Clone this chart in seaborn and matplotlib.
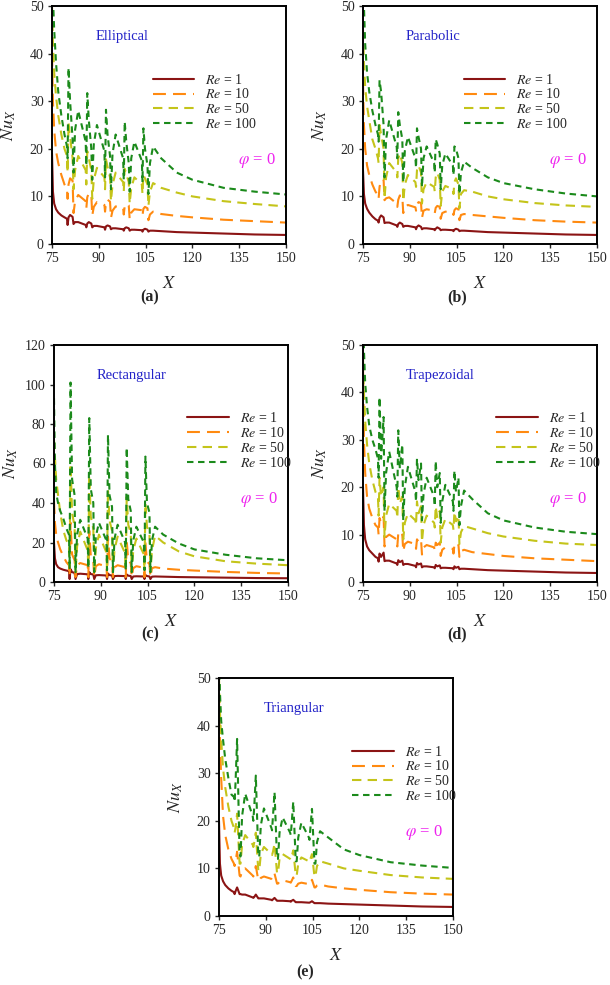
import numpy as np
import pandas as pd
import matplotlib
matplotlib.use("Agg")
import matplotlib.pyplot as plt
import seaborn as sns

# ---------------- data ----------------
RE_LABELS = ["$Re$ = 1", "$Re$ = 10", "$Re$ = 50", "$Re$ = 100"]

X_POS = [75.0, 75.3, 75.7, 76.3, 77.0, 78.0, 79.0,
         79.8, 80.0, 80.3, 80.8, 81.6, 81.9, 82.4, 83.4,
         85.8, 86.0, 86.3, 86.8, 87.6, 87.9, 88.4, 89.4,
         91.8, 92.0, 92.3, 92.8, 93.6, 93.9, 94.4, 95.4,
         97.8, 98.0, 98.3, 98.8, 99.6, 99.9, 100.4, 101.4,
         103.8, 104.0, 104.3, 104.8, 105.6, 105.9, 106.4, 107.4,
         110.0, 115.0, 120.0, 130.0, 140.0, 150.0]

# (a) Elliptical
ELL_RE1 = [19, 11, 8.5, 7.3, 6.6, 6.0, 5.6,
           5.3, 4.0, 5.6, 6.1, 5.7, 4.2, 4.6, 4.6,
           4.0, 3.5, 4.3, 4.6, 4.3, 3.5, 3.8, 3.8,
           3.5, 3.0, 3.7, 3.9, 3.7, 3.1, 3.3, 3.3,
           3.1, 2.8, 3.3, 3.5, 3.3, 2.8, 3.0, 3.0,
           2.9, 2.6, 3.0, 3.2, 3.0, 2.6, 2.8, 2.8,
           2.7, 2.5, 2.4, 2.2, 2.0, 1.9]
ELL_RE10 = [40, 30, 24, 19.5, 17, 14.5, 12.5,
            11.5, 9.5, 12.5, 13.8, 13.3, 6.5, 9.0, 10.3,
            9.0, 7.5, 9.8, 10.7, 10.2, 6.0, 7.8, 8.8,
            8.2, 6.8, 8.6, 9.3, 8.9, 5.5, 7.0, 7.9,
            7.5, 6.2, 7.9, 8.5, 8.1, 5.2, 6.6, 7.3,
            7.1, 6.0, 7.4, 7.8, 7.5, 5.0, 6.2, 6.8,
            6.3, 5.9, 5.6, 5.1, 4.8, 4.5]
ELL_RE50 = [50, 42, 36, 31, 27, 23, 20,
            18.5, 15, 25.5, 22.5, 18, 11.5, 15.5, 18.5,
            15.5, 12.5, 19.5, 18, 15.5, 9.5, 13.5, 16,
            14, 11.5, 17.8, 16.2, 14, 9, 12.5, 15,
            13, 11, 15.8, 14.8, 13, 8.5, 11.8, 14,
            12.5, 10.5, 14.5, 13.8, 12.5, 8, 11, 12.8,
            11.8, 10.8, 10, 9, 8.4, 7.9]
ELL_RE100 = [62, 52, 45, 38, 32, 27, 23,
             20.5, 18, 37, 30, 22, 15, 24, 28,
             21.5, 16.5, 31.7, 26, 20, 13.5, 21, 25,
             19.5, 14, 28.2, 23, 18.5, 11.5, 19, 23,
             18, 13.5, 25.7, 21.5, 17, 11, 18, 21.5,
             17.5, 13, 24.3, 20, 16.5, 10.5, 17, 20.5,
             18, 15, 13.5, 11.8, 11, 10.4]

# (b) Parabolic
PAR_RE1 = [15.5, 10.5, 8.5, 7.4, 6.6, 5.8, 5.2,
           4.9, 4.5, 5.5, 6.0, 5.6, 4.4, 4.5, 4.5,
           3.9, 3.6, 4.2, 4.5, 4.2, 3.6, 3.8, 3.8,
           3.5, 3.1, 3.6, 3.9, 3.6, 3.1, 3.3, 3.3,
           3.1, 2.9, 3.2, 3.5, 3.2, 2.9, 3.0, 3.0,
           2.9, 2.7, 3.0, 3.2, 3.0, 2.7, 2.8, 2.8,
           2.7, 2.5, 2.4, 2.2, 2.0, 1.9]
PAR_RE10 = [34, 25, 20, 16.5, 14.5, 12.5, 11,
            10.3, 9.5, 12, 13.5, 13.5, 9.2, 9.6, 9.8,
            8.5, 7.8, 9.3, 10.2, 10, 6.5, 7.8, 8.2,
            7.7, 7, 8.3, 8.8, 8.6, 5.5, 7.0, 7.3,
            7.0, 6.5, 7.6, 8.0, 7.8, 5.3, 6.5, 6.8,
            6.6, 6.1, 7.1, 7.5, 7.3, 5.0, 6.1, 6.3,
            6.1, 5.8, 5.5, 5.0, 4.7, 4.5]
PAR_RE50 = [45, 38, 33, 29, 26, 22, 20,
            18, 17, 25, 23, 20, 9.5, 14, 17,
            15, 14, 18, 19, 17, 9, 12.5, 14.5,
            13, 12, 15.5, 16.5, 15, 8.5, 11.5, 13,
            12, 11, 14, 15, 13.5, 8, 11, 12.2,
            11.5, 10.5, 13, 13.8, 12.5, 7.5, 10.5, 11.3,
            11, 10, 9.4, 8.6, 8.1, 7.8]
PAR_RE100 = [60, 50, 42, 36, 32, 28, 25,
             23, 21.5, 34.4, 32, 25, 14, 22, 26,
             20.4, 18, 27.7, 25, 22, 13, 19.5, 22.5,
             18, 16, 24.3, 22.5, 20, 12, 18, 20.5,
             17, 15, 22, 21, 19, 11.5, 16.5, 19,
             16.5, 14.5, 20.5, 20, 18, 10.5, 15, 17.3,
             16, 14, 12.8, 11.5, 10.6, 10]

# (c) Rectangular
REC_RE1 = [20, 12, 9, 7.5, 6.8, 6.2, 5.8,
           5.5, 1.5, 6.5, 5.0, 4.6, 1.5, 4.0, 4.2,
           3.9, 1.5, 5.0, 4.0, 3.8, 1.5, 3.4, 3.5,
           3.3, 1.5, 4.3, 3.5, 3.3, 1.5, 3.0, 3.1,
           3.0, 1.5, 3.8, 3.2, 3.0, 1.5, 2.8, 2.9,
           2.8, 1.5, 3.5, 3.0, 2.8, 1.5, 2.7, 2.8,
           2.7, 2.5, 2.4, 2.2, 2.0, 1.9]
REC_RE10 = [41, 30, 24, 20, 16.5, 13, 10,
            8.5, 3, 30, 14, 11, 2.5, 8.5, 9.6,
            8.5, 2.5, 26, 13, 10.5, 2.5, 8, 9,
            8, 2.5, 23, 12, 10, 2.5, 7.5, 8.5,
            7.5, 2.5, 21, 11, 9.5, 2.5, 7, 8,
            7.2, 2.5, 20, 10.5, 9, 2.5, 7, 7.5,
            6.8, 6.2, 5.8, 5.1, 4.6, 4.3]
REC_RE50 = [72, 63, 52, 44, 35, 26, 21,
            19, 8, 60, 35, 28, 5, 18, 25.5,
            16, 7, 54, 33, 27, 5, 17, 24,
            15, 6, 47, 31, 26, 5, 16.5, 23,
            14.5, 6, 43, 29, 25, 5, 16, 22,
            14, 6, 40, 28, 24, 5, 16, 23.5,
            20, 15.5, 13, 10.5, 9.3, 8.5]
REC_RE100 = [93, 60, 45, 40, 36, 32, 27,
             24, 7, 101, 52, 44, 5, 24, 31.5,
             22, 7, 83, 47, 40, 5, 23, 30,
             21, 6, 74.5, 44, 38, 5, 22, 29,
             20, 6, 68, 42, 36, 5, 21, 28,
             20, 6, 63.5, 40, 35, 5, 21, 28,
             24, 19.5, 16.5, 13.8, 12, 11]

# (d) Trapezoidal
TRA_RE1 = [20, 12, 9, 7.5, 6.7, 6.0, 5.3,
           5.0, 4.3, 6.0, 5.3, 6.2, 4.4, 4.5, 4.5,
           3.9, 3.6, 4.6, 4.2, 4.5, 3.6, 3.8, 3.8,
           3.4, 3.1, 4.0, 3.7, 3.9, 3.1, 3.3, 3.3,
           3.1, 2.9, 3.6, 3.3, 3.5, 2.9, 3.0, 3.0,
           2.9, 2.7, 3.3, 3.0, 3.2, 2.7, 2.8, 2.8,
           2.7, 2.5, 2.4, 2.2, 2.0, 1.9]
TRA_RE10 = [46, 30, 23, 18, 15.5, 13.5, 12,
            11.5, 10, 13.5, 12.5, 13.8, 7.5, 9.5, 10,
            9, 7.5, 10.2, 9.5, 10, 6.5, 8, 8.5,
            8, 7, 9, 8.5, 9, 5.8, 7.3, 7.8,
            7.3, 6.5, 8.3, 7.8, 8.3, 5.5, 6.8, 7.3,
            7, 6, 7.8, 7.3, 7.8, 5.3, 6.5, 6.8,
            6.3, 5.9, 5.5, 5.0, 4.7, 4.4]
TRA_RE50 = [47, 40, 34, 29, 25, 21.5, 19,
            18, 14, 22, 18, 20, 9.5, 14, 16.5,
            15, 13.5, 20, 16.5, 18, 9, 12.5, 14.5,
            13, 12, 17, 14.5, 16, 8.5, 12, 14,
            12.5, 11.5, 16, 13.5, 15, 8.3, 11.5, 13.3,
            12, 11, 14.8, 12.8, 14, 8, 10.5, 11.8,
            11.3, 10.3, 9.6, 8.7, 8.1, 7.8]
TRA_RE100 = [60, 49, 42, 37, 33, 30, 28,
             26, 22, 39, 26, 34.8, 15, 23, 27.5,
             20, 18, 32, 24, 29, 13, 20, 24.3,
             19, 17, 26, 21.5, 25, 13, 18.5, 22,
             18, 16, 25.5, 20, 23, 12.5, 17, 20.5,
             17, 15, 23.5, 19, 22, 12, 16, 19.3,
             17.5, 14.5, 13, 11.5, 10.6, 10.1]

# (e) Triangular
TRI_RE1 = [20, 11, 8.5, 7.3, 6.5, 5.8, 5.3,
           5.0, 4.6, 5.2, 6.0, 4.6, 4.6, 4.5, 4.5,
           3.9, 3.8, 4.0, 4.5, 3.7, 3.7, 3.7, 3.7,
           3.4, 3.3, 3.5, 3.8, 3.2, 3.2, 3.2, 3.2,
           3.1, 3.0, 3.2, 3.4, 2.9, 2.9, 2.9, 2.9,
           2.8, 2.8, 2.9, 3.1, 2.7, 2.7, 2.7, 2.7,
           2.6, 2.5, 2.4, 2.2, 2.0, 1.9]
TRI_RE10 = [46, 37, 29, 21, 17, 14, 12,
            11, 10.5, 11.5, 13.5, 8.5, 8.3, 9.5, 10,
            8.5, 8.3, 9, 10.5, 7.5, 7.5, 8, 8.3,
            7.8, 7.6, 8, 8.9, 6.8, 6.8, 7.2, 7.5,
            7.1, 7, 7.4, 8.1, 6.3, 6.3, 6.8, 7,
            6.7, 6.6, 7, 7.6, 6, 6, 6.4, 6.6,
            6.2, 5.8, 5.5, 5.0, 4.7, 4.5]
TRI_RE50 = [50, 43, 37, 31, 27, 23, 20,
            18.5, 17.5, 18.5, 21.5, 11, 11, 15, 17,
            15, 14.5, 15.5, 17.5, 9.5, 9.5, 13, 14.5,
            13, 12.8, 13.5, 15.2, 9, 9, 12, 13,
            12, 11.8, 12.5, 13.8, 8.5, 8.5, 11, 12.3,
            11.5, 11.3, 12, 13, 8.3, 8.3, 10.5, 11.5,
            11, 10, 9.5, 8.6, 8.1, 7.8]
TRI_RE100 = [58, 47, 41, 37, 33, 29, 25.5,
             25, 24, 28, 37.2, 13, 12.5, 21, 25.7,
             21, 20, 23, 29.5, 12.5, 12.5, 19, 22.6,
             18.5, 18, 21, 26, 12, 12, 17.5, 20.7,
             17.5, 17, 19.5, 24, 11.5, 11.5, 16.5, 19.6,
             16.5, 16, 18.5, 22.5, 11, 11, 15.5, 17.8,
             16.5, 14, 12.8, 11.3, 10.6, 10.1]

SHAPES = ["Elliptical", "Parabolic", "Rectangular", "Trapezoidal", "Triangular"]
PANEL_TAGS = ["(a)", "(b)", "(c)", "(d)", "(e)"]
X_TICKS = [75, 90, 105, 120, 135, 150]
Y_TICKS_50 = [0, 10, 20, 30, 40, 50]
Y_TICKS_120 = [0, 20, 40, 60, 80, 100, 120]

# ---------------- style ----------------
sns.set_style("ticks")
plt.rcParams["font.family"] = ["Liberation Serif", "DejaVu Serif"]
plt.rcParams["mathtext.fontset"] = "stix"

COLORS = {RE_LABELS[0]: "#8b1414", RE_LABELS[1]: "#ff8a10",
          RE_LABELS[2]: "#c4c41a", RE_LABELS[3]: "#1b8a1b"}
DASHES = {RE_LABELS[0]: "", RE_LABELS[1]: (6.2, 3.4),
          RE_LABELS[2]: (4.5, 3.0), RE_LABELS[3]: (3.1, 2.2)}

W, H = 610, 985
fig = plt.figure(figsize=(W / 100, H / 100), dpi=100)

panels = [
    ("Elliptical", [ELL_RE1, ELL_RE10, ELL_RE50, ELL_RE100], Y_TICKS_50, (52, 6, 286, 244), 0.43, (150, 297)),
    ("Parabolic", [PAR_RE1, PAR_RE10, PAR_RE50, PAR_RE100], Y_TICKS_50, (363, 6, 597, 244), 0.43, (457, 297)),
    ("Rectangular", [REC_RE1, REC_RE10, REC_RE50, REC_RE100], Y_TICKS_120, (54, 345, 288, 582), 0.57, (150, 634)),
    ("Trapezoidal", [TRA_RE1, TRA_RE10, TRA_RE50, TRA_RE100], Y_TICKS_50, (363, 345, 597, 582), 0.57, (457, 634)),
    ("Triangular", [TRI_RE1, TRI_RE10, TRI_RE50, TRI_RE100], Y_TICKS_50, (219, 678, 453, 916), 0.57, (305, 972)),
]
title_x = {"Elliptical": 0.30, "Parabolic": 0.30, "Rectangular": 0.33,
           "Trapezoidal": 0.33, "Triangular": 0.32}

for (name, series, yticks, (l, t, r, b), legx, (tx, ty)), tag in zip(panels, PANEL_TAGS):
    ax = fig.add_axes([l / W, 1 - b / H, (r - l) / W, (b - t) / H])
    frames = []
    for lab, vals in zip(RE_LABELS, series):
        frames.append(pd.DataFrame({"X": X_POS, "Nu": vals, "Re": lab}))
    df = pd.concat(frames, ignore_index=True)
    sns.lineplot(data=df, x="X", y="Nu", hue="Re", style="Re",
                 hue_order=RE_LABELS, style_order=RE_LABELS,
                 palette=COLORS, dashes=DASHES, estimator=None,
                 linewidth=1.5, ax=ax)
    ax.set_xlim(75, 150)
    ax.set_ylim(yticks[0], yticks[-1])
    ax.set_xticks(X_TICKS)
    ax.set_yticks(yticks)
    ax.tick_params(direction="out", length=3, width=1, labelsize=10, pad=3)
    for sp in ax.spines.values():
        sp.set_linewidth(1.4)
        sp.set_color("black")
    ax.set_xlabel("$X$", fontsize=13, va="center")
    ax.xaxis.set_label_coords(0.5, -39 / (b - t))
    ax.set_ylabel("$Nu_{X}$", fontsize=13, va="center", ha="center")
    ax.yaxis.set_label_coords(-43 / (r - l), 0.5)

    handles, labels = ax.get_legend_handles_labels()
    keep = [(h, lb) for h, lb in zip(handles, labels) if lb in RE_LABELS]
    ax.legend([k[0] for k in keep], [k[1] for k in keep],
              loc="upper left", bbox_to_anchor=(legx, 0.72),
              frameon=False, fontsize=10, handlelength=3.0,
              handletextpad=0.8, labelspacing=0.06, borderpad=0,
              borderaxespad=0)

    ax.text(title_x[name], 0.87, name, transform=ax.transAxes,
            ha="center", va="center", fontsize=10.5, color="#2323c8")
    ax.text(0.875, 0.35, r"$\varphi$ = 0", transform=ax.transAxes,
            ha="center", va="center", fontsize=12, color="#ee22ee")
    fig.text(tx / W, 1 - ty / H, tag, ha="center", va="center",
             fontsize=11.5, fontweight="bold")

fig.savefig("out.png", dpi=100, facecolor="white")
